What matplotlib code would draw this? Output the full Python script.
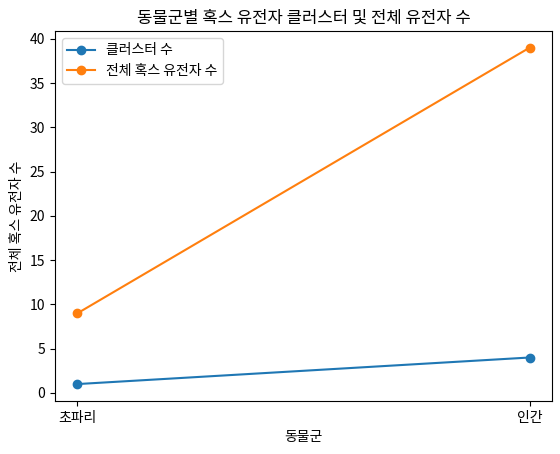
import matplotlib.pyplot as plt

plt.rcParams['font.family'] = ['Noto Sans CJK KR', 'DejaVu Sans']

# data
groups = ['초파리', '인간']
cluster_counts = [1, 4]
total_hox = [9, 39]

fig = plt.figure(figsize=(5.6, 4.54), dpi=100)
ax = fig.add_axes([0.098, 0.117, 0.888, 0.815])

ax.plot(groups, cluster_counts, marker='o', label='클러스터 수')
ax.plot(groups, total_hox, marker='o', label='전체 혹스 유전자 수')

ax.set_title('동물군별 혹스 유전자 클러스터 및 전체 유전자 수')
ax.set_xlabel('동물군')
ax.set_ylabel('전체 혹스 유전자 수')
ax.legend(loc='upper left')

fig.savefig('out.png')
